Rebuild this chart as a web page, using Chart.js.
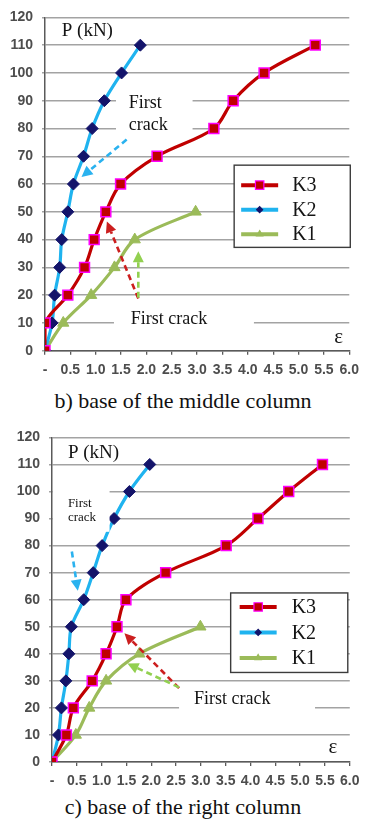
<!DOCTYPE html>
<html>
<head>
<meta charset="utf-8">
<script src="https://cdn.jsdelivr.net/npm/chart.js@4.4.1/dist/chart.umd.min.js"></script>
<style>
  html, body { margin: 0; padding: 0; background: #fff; }
  body { width: 366px; height: 828px; position: relative; overflow: hidden; }
  canvas { position: absolute; left: 0; }
  .cap {
    position: absolute; left: 0; width: 366px; text-align: center;
    font-family: "Liberation Serif", "Times New Roman", serif;
    font-size: 22px; line-height: 24px; color: #111;
  }
</style>
</head>
<body>
<canvas id="mid" width="366" height="380" style="top:0"></canvas>
<div class="cap" id="capMid" style="top:389px"></div>
<canvas id="right" width="366" height="372" style="top:420px"></canvas>
<div class="cap" id="capRight" style="top:795px"></div>

<script>
// Load steps (kN) shared by all specimens; K1 stops at 50 kN.
const loadKN = [0, 10, 20, 30, 40, 50, 60, 70, 80, 90, 100, 110];
const loadK1 = [0, 10, 20, 30, 40, 50];

// Strain readings, base of the middle column
const midK3 = [0, 0, 0.45, 0.78, 0.97, 1.20, 1.49, 2.21, 3.33, 3.71, 4.32, 5.33];
const midK2 = [0, 0.14, 0.19, 0.29, 0.33, 0.45, 0.56, 0.76, 0.93, 1.17, 1.51, 1.88];
const midK1 = [0, 0.36, 0.91, 1.37, 1.77, 2.97];

// Strain readings, base of the right column
const rightK3 = [0, 0.29, 0.43, 0.81, 1.09, 1.31, 1.49, 2.29, 3.51, 4.15, 4.77, 5.45];
const rightK2 = [0, 0.13, 0.19, 0.28, 0.34, 0.39, 0.64, 0.83, 1.01, 1.25, 1.56, 1.97];
const rightK1 = [0, 0.48, 0.75, 1.09, 1.76, 2.99];

// Axis tick labels
const strainTickLabels = ['-', '0.5', '1.0', '1.5', '2.0', '2.5', '3.0', '3.5', '4.0', '4.5', '5.0', '5.5', '6.0'];
const loadTickStep = 10;
const loadMax = 120;
const strainMax = 6;

// Texts
const seriesNames = ['K3', 'K2', 'K1'];
const loadAxisTitle = 'P (kN)';
const strainAxisTitle = 'ε';
const crackNote = 'First crack';
const captions = ['b) base of the middle column', 'c) base of the right column'];

document.getElementById('capMid').textContent = captions[0];
document.getElementById('capRight').textContent = captions[1];

const SERIF = '"Liberation Serif", "Times New Roman", serif';
const SANS = '"Liberation Sans", Arial, sans-serif';

function pairs(xs, ys) {
  return xs.map((x, i) => ({ x: x, y: ys[i] }));
}

function makeDatasets(k3, k2, k1) {
  return [
    {
      label: seriesNames[0], data: pairs(k3, loadKN),
      borderColor: '#c00000', backgroundColor: '#c00000', borderWidth: 3.2,
      pointStyle: 'rect', pointRadius: 7, pointHoverRadius: 7,
      pointBackgroundColor: '#c00000', pointBorderColor: '#ff00ff', pointBorderWidth: 1.5,
      legendMarker: { style: 'rect', r: 4.2 }
    },
    {
      label: seriesNames[1], data: pairs(k2, loadKN),
      borderColor: '#1fb3ef', backgroundColor: '#1fb3ef', borderWidth: 3.2,
      pointStyle: 'rectRot', pointRadius: 6, pointHoverRadius: 6,
      pointBackgroundColor: '#14146a', pointBorderColor: '#14146a', pointBorderWidth: 1,
      legendMarker: { style: 'rectRot', r: 3 }
    },
    {
      label: seriesNames[2], data: pairs(k1, loadK1),
      borderColor: '#9bbb59', backgroundColor: '#9bbb59', borderWidth: 3.2,
      pointStyle: 'triangle', pointRadius: 6.5, pointHoverRadius: 6.5,
      pointBackgroundColor: '#9bbb59', pointBorderColor: '#9bbb59', pointBorderWidth: 1,
      legendMarker: { style: 'triangle', r: 3.5 }
    }
  ];
}

// Annotation layer: white label boxes, dashed arrows, texts and the legend frame
function X(chart, v) { return chart.scales.x.getPixelForValue(v); }
function Y(chart, v) { return chart.scales.y.getPixelForValue(v); }

function drawBoxes(chart, boxes) {
  const ctx = chart.ctx;
  (boxes || []).forEach(b => {
    const x1 = X(chart, b.x1), x2 = X(chart, b.x2), y1 = Y(chart, b.y1), y2 = Y(chart, b.y2);
    ctx.save();
    ctx.fillStyle = '#ffffff';
    ctx.fillRect(x1, y1, x2 - x1, y2 - y1);
    ctx.restore();
  });
}

function drawArrow(chart, a) {
  const ctx = chart.ctx;
  const sx = X(chart, a.from[0]), sy = Y(chart, a.from[1]);
  const ex = X(chart, a.to[0]), ey = Y(chart, a.to[1]);
  const ang = Math.atan2(ey - sy, ex - sx);
  const head = 11, half = 5.5;
  const bx = ex - Math.cos(ang) * head, by = ey - Math.sin(ang) * head;
  ctx.save();
  ctx.strokeStyle = a.color;
  ctx.fillStyle = a.color;
  ctx.lineWidth = 2.6;
  ctx.setLineDash([6, 4]);
  ctx.beginPath();
  ctx.moveTo(sx, sy);
  ctx.lineTo(bx, by);
  ctx.stroke();
  ctx.setLineDash([]);
  ctx.beginPath();
  ctx.moveTo(ex, ey);
  ctx.lineTo(bx + Math.cos(ang + Math.PI / 2) * half, by + Math.sin(ang + Math.PI / 2) * half);
  ctx.lineTo(bx + Math.cos(ang - Math.PI / 2) * half, by + Math.sin(ang - Math.PI / 2) * half);
  ctx.closePath();
  ctx.fill();
  ctx.restore();
}

function drawText(chart, t) {
  const ctx = chart.ctx;
  ctx.save();
  ctx.font = t.font;
  ctx.fillStyle = '#141414';
  ctx.textAlign = t.align || 'left';
  ctx.textBaseline = 'middle';
  ctx.fillText(t.text, X(chart, t.x), Y(chart, t.y));
  ctx.restore();
}

function drawMarker(ctx, style, x, y, r, fill, stroke) {
  ctx.save();
  ctx.fillStyle = fill;
  ctx.strokeStyle = stroke;
  ctx.lineWidth = 1.2;
  ctx.beginPath();
  if (style === 'rect') {
    ctx.rect(x - r, y - r, 2 * r, 2 * r);
  } else if (style === 'rectRot') {
    ctx.moveTo(x - r, y); ctx.lineTo(x, y - r); ctx.lineTo(x + r, y); ctx.lineTo(x, y + r); ctx.closePath();
  } else {
    ctx.moveTo(x, y - r); ctx.lineTo(x + r * 0.87, y + r * 0.5); ctx.lineTo(x - r * 0.87, y + r * 0.5); ctx.closePath();
  }
  ctx.fill();
  ctx.stroke();
  ctx.restore();
}

function drawLegend(chart, lg) {
  if (!lg) return;
  const ctx = chart.ctx;
  const x1 = X(chart, lg.x1), x2 = X(chart, lg.x2), y1 = Y(chart, lg.y1), y2 = Y(chart, lg.y2);
  ctx.save();
  ctx.fillStyle = '#ffffff';
  ctx.fillRect(x1, y1, x2 - x1, y2 - y1);
  ctx.strokeStyle = '#3c3c3c';
  ctx.lineWidth = 1.4;
  ctx.strokeRect(x1, y1, x2 - x1, y2 - y1);
  chart.data.datasets.forEach((ds, i) => {
    const ry = y1 + lg.rowTop + i * lg.rowGap;
    const lx1 = x1 + lg.lineLeft, lx2 = lx1 + 37;
    ctx.strokeStyle = ds.borderColor;
    ctx.lineWidth = 4;
    ctx.beginPath();
    ctx.moveTo(lx1, ry);
    ctx.lineTo(lx2, ry);
    ctx.stroke();
    const m = ds.legendMarker;
    drawMarker(ctx, m.style, (lx1 + lx2) / 2, ry, m.r, ds.pointBackgroundColor, ds.pointBorderColor);
    ctx.fillStyle = '#141414';
    ctx.font = '20px ' + SERIF;
    ctx.textAlign = 'left';
    ctx.textBaseline = 'middle';
    ctx.fillText(ds.label, x1 + lg.textLeft, ry + 1);
  });
  ctx.restore();
}

const notesPlugin = {
  id: 'notes',
  beforeDatasetsDraw(chart, _args, o) {
    drawBoxes(chart, o.boxesUnder);
  },
  afterDatasetsDraw(chart, _args, o) {
    drawBoxes(chart, o.boxesOver);
    (o.arrows || []).forEach(a => drawArrow(chart, a));
    (o.texts || []).forEach(t => drawText(chart, t));
    drawLegend(chart, o.legend);
  }
};

function makeChart(id, datasets, layout, notes) {
  return new Chart(document.getElementById(id), {
    type: 'line',
    data: { datasets: datasets },
    plugins: [notesPlugin],
    options: {
      responsive: false,
      animation: false,
      devicePixelRatio: 1,
      layout: { padding: { top: layout.top, right: layout.right, left: 0, bottom: 0 } },
      elements: { line: { tension: 0.33 } },
      scales: {
        x: {
          type: 'linear', min: 0, max: strainMax,
          afterFit(s) { s.height = layout.xAxisHeight; },
          afterBuildTicks(s) {
            s.ticks = strainTickLabels.map((_, i) => ({ value: i * strainMax / (strainTickLabels.length - 1) }));
          },
          ticks: {
            autoSkip: false, maxRotation: 0, padding: layout.xPad,
            color: '#4d4d4d', font: { family: SANS, size: 14, weight: 'bold' },
            callback: (v, i) => strainTickLabels[i]
          },
          grid: { drawOnChartArea: false, drawTicks: true, tickLength: 4, color: '#5a5a5a', lineWidth: 1.3 },
          border: { color: '#5a5a5a', width: 1.5 }
        },
        y: {
          type: 'linear', min: 0, max: loadMax,
          afterFit(s) { s.width = layout.yAxisWidth; },
          ticks: {
            stepSize: loadTickStep, padding: 9,
            color: '#4d4d4d', font: { family: SANS, size: 14, weight: 'bold' }
          },
          grid: { color: '#a3a3a3', lineWidth: 1.5, tickLength: 3 },
          border: { color: '#5a5a5a', width: 1.5 }
        }
      },
      plugins: {
        legend: { display: false },
        tooltip: { enabled: false },
        notes: notes
      }
    }
  });
}

// b) base of the middle column
makeChart('mid', makeDatasets(midK3, midK2, midK1),
  { top: 13, right: 12, yAxisWidth: 45, xAxisHeight: 29.3, xPad: 7 },
  {
    boxesUnder: [
      { x1: 1.40, x2: 2.91, y1: 95.3, y2: 75.0 },
      { x1: 1.36, x2: 4.12, y1: 15.5, y2: 5.6 }
    ],
    arrows: [
      { from: [1.61, 76.0], to: [0.72, 62.5], color: '#2ab2ef' },
      { from: [1.84, 18.8], to: [1.22, 46.5], color: '#cc1f1f' },
      { from: [1.84, 19.1], to: [1.84, 35.8], color: '#92d050' }
    ],
    texts: [
      { text: 'First', x: 1.65, y: 89.2, font: '18px ' + SERIF },
      { text: 'crack', x: 1.65, y: 81.0, font: '18px ' + SERIF },
      { text: crackNote, x: 1.69, y: 11.3, font: '18px ' + SERIF },
      { text: loadAxisTitle, x: 0.33, y: 115.2, font: '19px ' + SERIF },
      { text: strainAxisTitle, x: 5.79, y: 4.9, font: '21px ' + SERIF, align: 'center' }
    ],
    legend: { x1: 3.73, x2: 6.02, y1: 66.8, y2: 37.2, rowTop: 20, rowGap: 24.5, lineLeft: 7, textLeft: 58 }
  });

// c) base of the right column
makeChart('right', makeDatasets(rightK3, rightK2, rightK1),
  { top: 12, right: 14, yAxisWidth: 52, xAxisHeight: 30, xPad: 6.5 },
  {
    boxesUnder: [
      { x1: 2.56, x2: 5.30, y1: 26.9, y2: 14.5 }
    ],
    boxesOver: [
      { x1: 0.02, x2: 1.16, y1: 103.3, y2: 85.1 }
    ],
    arrows: [
      { from: [0.40, 77.8], to: [0.52, 63.3], color: '#2ab2ef' },
      { from: [2.56, 27.3], to: [1.46, 47.6], color: '#cc1f1f' },
      { from: [2.56, 27.6], to: [1.52, 36.4], color: '#92d050' }
    ],
    texts: [
      { text: 'First', x: 0.32, y: 95.6, font: '13px ' + SERIF },
      { text: 'crack', x: 0.32, y: 90.2, font: '13px ' + SERIF },
      { text: crackNote, x: 2.86, y: 23.3, font: '18px ' + SERIF },
      { text: loadAxisTitle, x: 0.32, y: 114.2, font: '19px ' + SERIF },
      { text: strainAxisTitle, x: 5.66, y: 5.5, font: '21px ' + SERIF, align: 'center' }
    ],
    legend: { x1: 3.60, x2: 5.96, y1: 62.5, y2: 33.1, rowTop: 14, rowGap: 25.5, lineLeft: 9, textLeft: 61 }
  });
</script>
</body>
</html>
